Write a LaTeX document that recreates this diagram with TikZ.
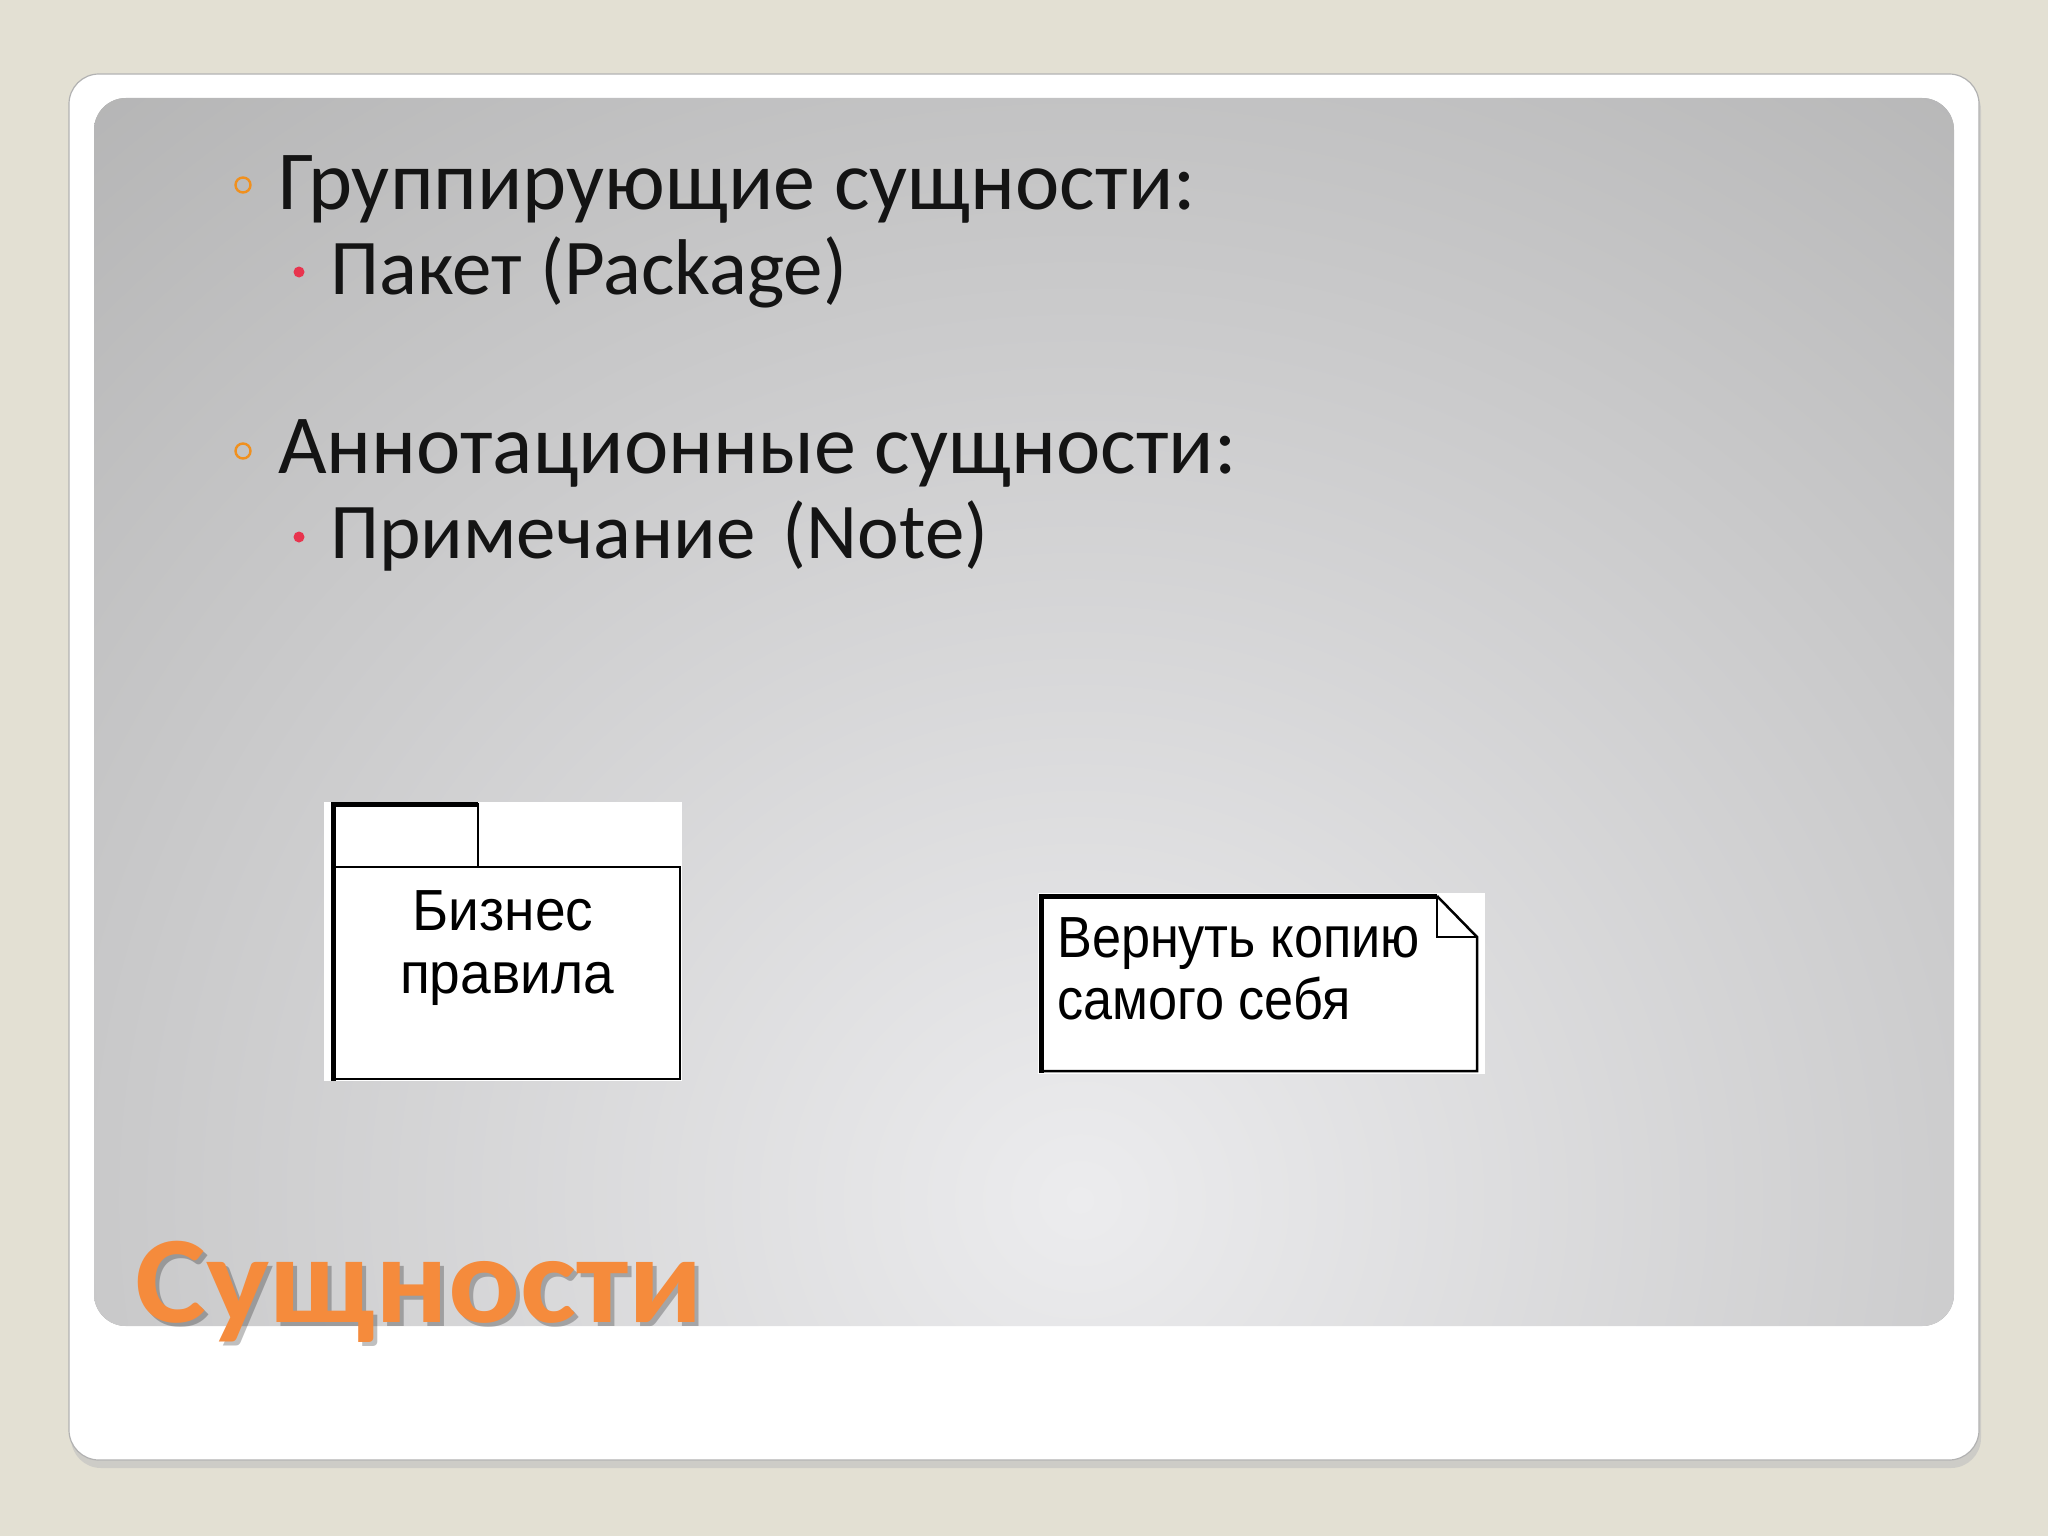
\documentclass[tikz,border=0pt]{standalone}
\usepackage{fontspec}
\setmainfont{Carlito}
\newfontfamily\uifont{Liberation Sans}
\definecolor{bgbeige}{HTML}{E3E0D3}
\definecolor{panelgray}{HTML}{A6A6A6}
\definecolor{panellight}{HTML}{ECECEE}
\definecolor{titleorange}{HTML}{F58B3C}
\definecolor{bulletorange}{HTML}{F0901E}
\definecolor{bulletred}{HTML}{E8344E}
\tikzset{
  bodytext/.style={anchor=base west, inner sep=0pt, font=\fontsize{84}{100}\selectfont, text=black!92},
  subtext/.style={anchor=base west, inner sep=0pt, font=\fontsize{79}{90}\selectfont, text=black!92},
  obullet/.style={circle, draw=bulletorange, line width=2.4pt, minimum size=15pt, inner sep=0pt},
  rbullet/.style={circle, fill=bulletred, minimum size=11pt, inner sep=0pt},
  uitext/.style={inner sep=0pt, font=\uifont\fontsize{58}{66}\selectfont, text=black},
  uiline/.style={draw=black, line width=2.5pt},
  uithick/.style={draw=black, line width=5pt},
  titletext/.style={anchor=base west, inner sep=0pt, font=\bfseries\fontsize{124}{130}\selectfont},
}
\begin{document}
\begin{tikzpicture}[x=1pt,y=-1pt]
\useasboundingbox (0,0) rectangle (2048,1536);
\fill[bgbeige] (0,0) rectangle (2048,1536);
% frame shadow
\fill[black!25, opacity=0.6] (71,80) [rounded corners=30pt] rectangle (1981,1468);
\fill[white, draw=black!30, line width=1.2pt] (69,74) [rounded corners=30pt] rectangle (1979,1460);
% gray gradient panel
\begin{scope}
  \clip (94,98) [rounded corners=32pt] rectangle (1954,1326);
  \fill[panelgray] (94,98) rectangle (1954,1326);
  \shade[inner color=panellight, outer color=panelgray] (1080,1200) ellipse [x radius=1950, y radius=1850];
\end{scope}
% bullets and text
\node[obullet] (b1) at (243,185) {};
\node[bodytext] (t1) at (278,209) {Группирующие сущности:};
\node[rbullet] (r1) at (299,272) {};
\node[subtext] (t2) at (330,294) {Пакет (Package)};
\node[obullet] (b2) at (243,451) {};
\node[bodytext] (t3) at (278,473) {Аннотационные сущности:};
\node[rbullet] (r2) at (299,537) {};
\node[subtext] (t4) at (330,558) {Примечание\hspace{0.12em} (Note)};
% package
\fill[white] (324,802) rectangle (682,1081);
\draw[uiline] (333,867) rectangle (680,1079);
\draw[uiline] (333,804) rectangle (478,867);
\draw[uithick] (333,802) -- (333,1081);
\draw[uithick] (333,804) -- (478,804);
\node[uitext, anchor=base] (p1) at (503,930) {\scalebox{0.95}[1]{Бизнес}};
\node[uitext, anchor=base] (p2) at (507,993) {\scalebox{0.95}[1]{правила}};
% note
\fill[white] (1038,893) rectangle (1485,1074);
\draw[uiline] (1437,896) -- (1437,937) -- (1477,937);
\draw[uiline] (1437,896) -- (1477,937) -- (1477,1071) -- (1041,1071);
\draw[uithick] (1041,1073) -- (1041,896) -- (1437,896);
\node[uitext, anchor=base west] (n1) at (1057,957) {\scalebox{0.9}[1]{Вернуть копию}};
\node[uitext, anchor=base west] (n2) at (1057,1019) {\scalebox{0.9}[1]{самого себя}};
% title
\node[titletext, text=black, opacity=0.25] (tsh) at (139,1326) {\scalebox{1.08}[1]{Сущности}};
\node[titletext, text=titleorange] (title) at (135,1322) {\scalebox{1.08}[1]{Сущности}};
\end{tikzpicture}
\end{document}
